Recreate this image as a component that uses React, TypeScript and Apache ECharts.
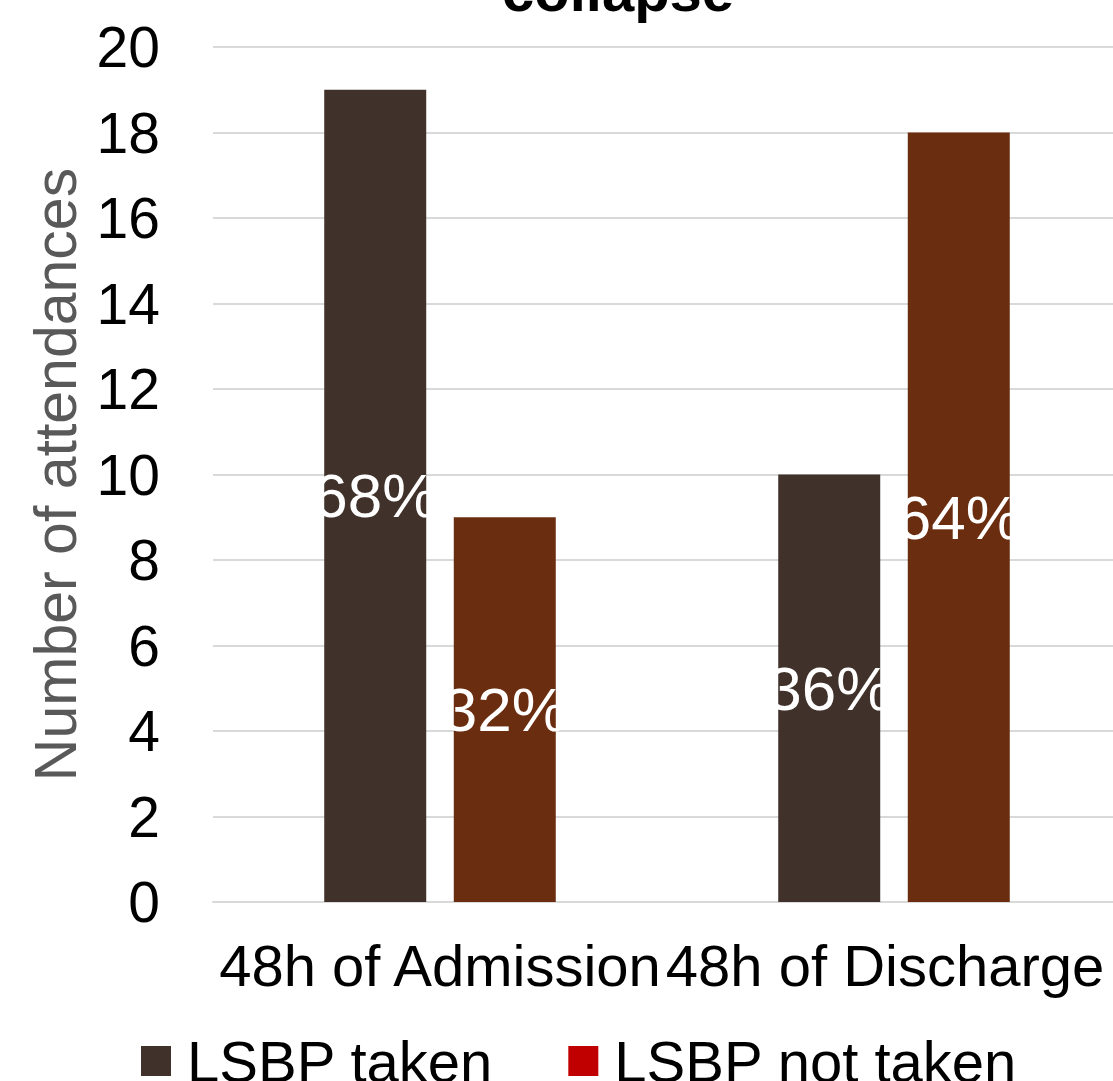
import React, { useEffect, useRef } from "react";
import * as echarts from "echarts";

const categories = ["48h of Admission", "48h of Discharge"];
const seriesNames = ["LSBP taken", "LSBP not taken"];
const takenValues = [19, 10];
const notTakenValues = [9, 18];
const takenLabels = ["68%", "36%"];
const notTakenLabels = ["32%", "64%"];
const titleText = "collapse";
const yAxisTitle = "Number of attendances";

const FONT = "'Liberation Sans', Arial, sans-serif";

export default function App() {
  const ref = useRef<HTMLDivElement>(null);
  useEffect(() => {
    if (!ref.current) return;
    const chart = echarts.init(ref.current, undefined, { renderer: "svg" });
    const labelFor = (arr: string[]) => ({
      show: true,
      position: "inside",
      color: "#ffffff",
      fontSize: 62,
      fontFamily: FONT,
      formatter: (p: any) => arr[p.dataIndex],
    });
    chart.setOption({
      animation: false,
      textStyle: { fontFamily: FONT },
      title: {
        text: titleText,
        left: 497,
        top: -44,
        textStyle: { fontSize: 58, fontWeight: "bold", color: "#000", fontFamily: FONT },
      },
      grid: { left: 213, right: 1, top: 47, bottom: 179, containLabel: false },
      legend: {
        bottom: -14,
        left: 136,
        icon: "rect",
        itemWidth: 30,
        itemHeight: 30,
        itemGap: 75,
        textStyle: { fontSize: 58, color: "#000", fontFamily: FONT, padding: [0, 0, 0, 11] },
        data: [
          { name: seriesNames[0], itemStyle: { color: "#40312A" } },
          { name: seriesNames[1], itemStyle: { color: "#C00000" } },
        ],
      },
      xAxis: {
        type: "category",
        data: categories,
        axisLine: { lineStyle: { color: "#D9D9D9", width: 2 } },
        axisTick: { show: false },
        axisLabel: {
          fontSize: 58,
          color: "#000",
          margin: 34,
          fontFamily: FONT,
          interval: 0,
          formatter: (v: string, i: number) => (i === 1 ? `{s|${v}}` : `{n|${v}}`),
          rich: {
            n: { fontSize: 58, color: "#000", fontFamily: FONT },
            s: { fontSize: 58, color: "#000", fontFamily: FONT, padding: [0, 18, 0, 0] },
          },
        },
      },
      yAxis: {
        type: "value",
        min: 0,
        max: 20,
        interval: 2,
        name: yAxisTitle,
        nameLocation: "middle",
        nameGap: 127,
        nameTextStyle: { fontSize: 59, color: "#595959", fontFamily: FONT },
        axisLine: { show: false },
        axisTick: { show: false },
        axisLabel: { fontSize: 57, color: "#000", margin: 53, fontFamily: FONT },
        splitLine: { lineStyle: { color: "#D9D9D9", width: 2 } },
      },
      series: [
        {
          name: seriesNames[0],
          type: "bar",
          data: takenValues,
          barWidth: 102,
          barGap: "27%",
          itemStyle: { color: "#40312A" },
          label: labelFor(takenLabels),
        },
        {
          name: seriesNames[1],
          type: "bar",
          data: notTakenValues,
          barWidth: 102,
          barGap: "27%",
          itemStyle: { color: "#6B2D0F" },
          label: labelFor(notTakenLabels),
        },
      ],
    });
    return () => chart.dispose();
  }, []);
  return (
    <div
      style={{
        position: "absolute",
        left: 0,
        top: 0,
        width: 1113,
        height: 1081,
        overflow: "hidden",
        background: "#fff",
      }}
    >
      <div ref={ref} style={{ width: 1122, height: 1081 }} />
    </div>
  );
}
